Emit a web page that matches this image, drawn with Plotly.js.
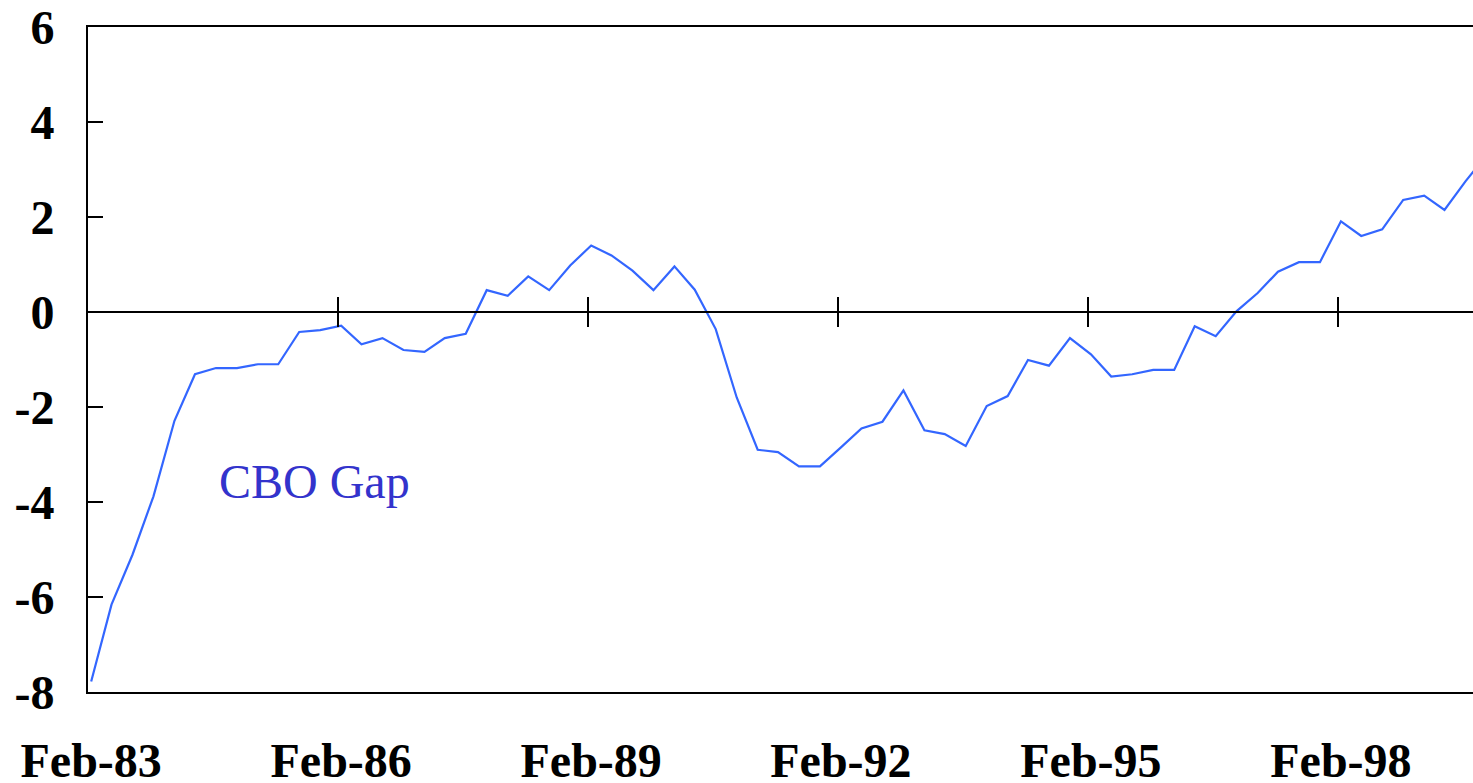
<!DOCTYPE html>
<html>
<head>
<meta charset="utf-8">
<script src="https://cdn.plot.ly/plotly-3.0.1.min.js"></script>
<style>
  html, body { margin: 0; padding: 0; background: #fff; overflow: hidden; }
  #gapChart { width: 1473px; height: 783px; }
</style>
</head>
<body>
<div id="gapChart"></div>
<script>
// quarterly observations, Feb-83 .. Nov-99
var quarters = [
  "1983-02-15", "1983-05-15", "1983-08-15", "1983-11-15",
  "1984-02-15", "1984-05-15", "1984-08-15", "1984-11-15",
  "1985-02-15", "1985-05-15", "1985-08-15", "1985-11-15",
  "1986-02-15", "1986-05-15", "1986-08-15", "1986-11-15",
  "1987-02-15", "1987-05-15", "1987-08-15", "1987-11-15",
  "1988-02-15", "1988-05-15", "1988-08-15", "1988-11-15",
  "1989-02-15", "1989-05-15", "1989-08-15", "1989-11-15",
  "1990-02-15", "1990-05-15", "1990-08-15", "1990-11-15",
  "1991-02-15", "1991-05-15", "1991-08-15", "1991-11-15",
  "1992-02-15", "1992-05-15", "1992-08-15", "1992-11-15",
  "1993-02-15", "1993-05-15", "1993-08-15", "1993-11-15",
  "1994-02-15", "1994-05-15", "1994-08-15", "1994-11-15",
  "1995-02-15", "1995-05-15", "1995-08-15", "1995-11-15",
  "1996-02-15", "1996-05-15", "1996-08-15", "1996-11-15",
  "1997-02-15", "1997-05-15", "1997-08-15", "1997-11-15",
  "1998-02-15", "1998-05-15", "1998-08-15", "1998-11-15",
  "1999-02-15", "1999-05-15", "1999-08-15", "1999-11-15"
];

var cboGap = [
  -7.78, -6.16, -5.11, -3.88,
  -2.29, -1.31, -1.18, -1.18,
  -1.10, -1.10, -0.42, -0.38,
  -0.29, -0.68, -0.55, -0.80,
  -0.84, -0.55, -0.46, 0.46,
  0.34, 0.75, 0.46, 0.98,
  1.40, 1.19, 0.87, 0.46,
  0.96, 0.47, -0.36, -1.80,
  -2.90, -2.95, -3.25, -3.25,
  -2.85, -2.45, -2.31, -1.65,
  -2.49, -2.57, -2.82, -1.98,
  -1.77, -1.01, -1.13, -0.55,
  -0.89, -1.36, -1.31, -1.22,
  -1.22, -0.30, -0.51, 0.02,
  0.40, 0.85, 1.05, 1.05,
  1.91, 1.60, 1.74, 2.36,
  2.45, 2.15, 2.75, 3.30
];

// x tick labels sit under the Feb observations, tick marks on the zero line at Feb 1
var labelDates = ["1983-02-15", "1986-02-15", "1989-02-15", "1992-02-15", "1995-02-15", "1998-02-15"];
var labelText = ["Feb-83", "Feb-86", "Feb-89", "Feb-92", "Feb-95", "Feb-98"];
var tickDates = ["1986-02-01", "1989-02-01", "1992-02-01", "1995-02-01", "1998-02-01"];

var yTickVals = [6, 4, 2, 0, -2, -4, -6, -8];
var yTickText = ["6", "4", "2", "0", "-2", "-4", "-6", "-8"];

var xRange = ["1983-02-01", "1999-09-17"];
var yRange = [-8, 6];

var serif = "Liberation Serif, Times New Roman, serif";

var data = [
  {
    x: quarters,
    y: cboGap,
    type: "scatter",
    mode: "lines",
    line: { color: "#3366ff", width: 2.2 },
    hoverinfo: "x+y",
    showlegend: false
  },
  // empty traces so the zero-line axes get drawn
  { x: [], y: [], xaxis: "x2", type: "scatter", showlegend: false },
  { x: [], y: [], xaxis: "x3", type: "scatter", showlegend: false }
];

var zeroPos = (0 - yRange[0]) / (yRange[1] - yRange[0]);

var zeroAxis = function (side) {
  return {
    type: "date",
    overlaying: "x",
    anchor: "free",
    position: zeroPos,
    range: xRange,
    showgrid: false,
    zeroline: false,
    showline: true,
    linecolor: "#000",
    linewidth: 2,
    ticks: side,
    ticklen: 14,
    tickwidth: 2,
    tickcolor: "#000",
    tickmode: "array",
    tickvals: tickDates,
    showticklabels: false
  };
};

var layout = {
  width: 1473,
  height: 783,
  margin: { l: 88, r: 0, t: 27, b: 91 },
  paper_bgcolor: "#fff",
  plot_bgcolor: "#fff",
  font: { family: serif, color: "#000" },
  xaxis: {
    type: "date",
    range: xRange,
    showgrid: false,
    zeroline: false,
    showline: true,
    mirror: true,
    linecolor: "#000",
    linewidth: 2,
    ticks: "",
    tickmode: "array",
    tickvals: labelDates,
    ticktext: labelText,
    ticklabelstandoff: 25,
    tickfont: { family: serif, size: 48, weight: "bold", color: "#000" }
  },
  xaxis2: zeroAxis("outside"),
  xaxis3: zeroAxis("inside"),
  yaxis: {
    range: yRange,
    showgrid: false,
    zeroline: false,
    showline: true,
    linecolor: "#000",
    linewidth: 2,
    ticks: "inside",
    ticklen: 15,
    tickwidth: 2,
    tickcolor: "#000",
    tickmode: "array",
    tickvals: yTickVals,
    ticktext: yTickText,
    ticklabelstandoff: 22,
    tickfont: { family: serif, size: 48, weight: "bold", color: "#000" }
  },
  annotations: [
    {
      x: "1985-10-23",
      y: -3.57,
      xref: "x",
      yref: "y",
      text: "CBO Gap",
      showarrow: false,
      xanchor: "center",
      yanchor: "middle",
      font: { family: serif, size: 48, color: "#3333cc" }
    }
  ]
};

Plotly.newPlot("gapChart", data, layout, { staticPlot: true, displayModeBar: false });
</script>
</body>
</html>
